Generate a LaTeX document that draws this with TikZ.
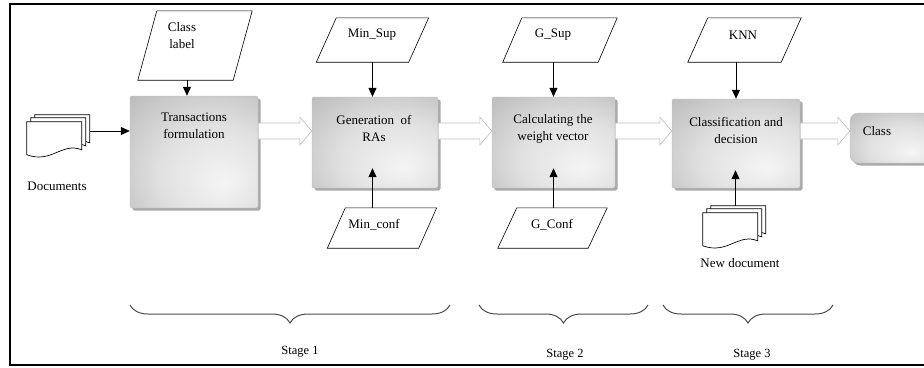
\documentclass[tikz,border=0pt]{standalone}
\usepackage{fontspec}
\setmainfont{Liberation Serif}
\usetikzlibrary{arrows.meta,shadows,decorations.pathreplacing,calc}
\pgfdeclareradialshading{boxshade}{\pgfpoint{12bp}{-14bp}}{color(0bp)=(gray!8); color(22bp)=(gray!24); color(45bp)=(gray!55); color(75bp)=(gray!66)}
\newcommand\parashape[2]{\draw[parastyle] ([xshift=-#2]#1.south west) -- ([xshift=-#2]#1.south east) -- ([xshift=#2]#1.north east) -- ([xshift=#2]#1.north west) -- cycle;}
\newcommand\docpage[2]{\draw[docstyle] (#1,#2) -- ++(55,0) -- ++(0,28) .. controls ++(-20,-8) and ++(25,9) .. ++(-55,5) -- cycle;}
\newcommand\docstack[1]{\begin{scope}[shift={(#1.north west)}]\docpage{8}{0}\docpage{4}{3}\docpage{0}{7}\end{scope}}
\tikzset{
  box/.style={shade, shading=boxshade, draw=gray!50, line width=0.4pt, rounded corners=2pt, inner sep=0,
    drop shadow={shadow xshift=2.5pt, shadow yshift=-2.5pt, fill=gray!90, opacity=0.75}},
  txt/.style={font=\fontsize{13}{17}\selectfont, align=center, inner sep=0},
  stagetxt/.style={font=\fontsize{12.5}{15}\selectfont, inner sep=0},
  parabox/.style={inner sep=0},
  parastyle/.style={draw=black, fill=white, line width=0.6pt},
  docstyle/.style={draw=black, fill=white, line width=0.7pt},
  arr/.style={-{Triangle[length=9pt,width=8pt]}, line width=1pt, black},
  hollow/.style={draw=gray!50, fill=white, line width=0.6pt,
    to path={let \p1=(\tikztostart), \p2=(\tikztotarget) in
      (\x1,\y1+8pt) -- (\x2-12pt,\y1+8pt) -- (\x2-12pt,\y1+14pt) -- (\x2,\y1)
      -- (\x2-12pt,\y1-14pt) -- (\x2-12pt,\y1-8pt) -- (\x1,\y1-8pt) -- cycle}},
  bracestyle/.style={decorate, decoration={brace, mirror, amplitude=18pt}, draw=gray!60!black, line width=1pt}
}
\begin{document}
\begin{tikzpicture}[x=1pt,y=-1pt]
\useasboundingbox (0,0) rectangle (924,367);
% frame
\draw[line width=2pt] (930,4) -- (10,4) -- (10,365) -- (930,365);
% process boxes
\node[box, minimum width=128pt, minimum height=112pt] (b1) at (194,152) {};
\node[box, minimum width=126pt, minimum height=91pt] (b2) at (375,142.5) {};
\node[box, minimum width=123pt, minimum height=91pt] (b3) at (553.5,142.5) {};
\node[box, minimum width=128pt, minimum height=89pt] (b4) at (736,143.5) {};
\node[box, rounded corners=8pt, minimum width=84pt, minimum height=50pt] (cls) at (892,138) {};
\node[txt] (t1) at (194,126) {Transactions\\formulation};
\node[txt] (t2) at (374,128.5) {Generation\ \ of\\RAs};
\node[txt] (t3) at (553,128.5) {Calculating the\\weight vector};
\node[txt] (t4) at (736,130) {Classification and\\decision};
\node[txt] (t5) at (877,131) {Class};
% parallelograms
\node[parabox, minimum width=95pt, minimum height=69pt] (cl) at (195,45.5) {};
\node[parabox, minimum width=92pt, minimum height=44pt] (ms) at (372.5,40) {};
\node[parabox, minimum width=91pt, minimum height=40pt] (mc) at (382,228) {};
\node[parabox, minimum width=95pt, minimum height=44pt] (gs) at (560,40) {};
\node[parabox, minimum width=90pt, minimum height=40pt] (gc) at (552.5,228) {};
\node[parabox, minimum width=93pt, minimum height=44pt] (knn) at (744.5,40) {};
\parashape{cl}{9.5pt}
\parashape{ms}{10pt}
\parashape{mc}{9pt}
\parashape{gs}{9.5pt}
\parashape{gc}{9.5pt}
\parashape{knn}{10pt}
\node[txt] (clt) at (182,36) {Class\\label};
\node[txt] (mst) at (372,35) {Min\_Sup};
\node[txt] (mct) at (374,225) {Min\_conf};
\node[txt] (gst) at (553,35) {G\_Sup};
\node[txt] (gct) at (552,225) {G\_Conf};
\node[txt] (knnt) at (743,35) {KNN};
% document stacks
\node[inner sep=0, minimum width=63pt, minimum height=42pt] (docs) at (58.5,136) {};
\docstack{docs}
\node[txt] (docst) at (57,186) {Documents};
\node[inner sep=0, minimum width=65pt, minimum height=39pt] (nd) at (735.5,225.5) {};
\docstack{nd}
\node[txt] (ndt) at (740,263) {New document};
% helper coordinates
\coordinate (ay) at (0,131);
\path ([xshift=-8pt]cl.south) coordinate (clbot);
\path (b2.south) ++(0,-20) coordinate (in2);
\path (b3.south) ++(0,-20) coordinate (in3);
\path (b4.south) ++(0,-18) coordinate (in4);
% thin arrows
\draw[arr] (docs.east |- ay) -- (b1.west |- ay);
\draw[arr] (clbot) -- (clbot |- b1.north);
\draw[arr] (ms.south) -- (ms.south |- b2.north);
\draw[arr] (mc.north -| ms.south) -- (in2 -| ms.south);
\draw[arr] (gs.south -| b3.north) -- (b3.north);
\draw[arr] (gc.north -| in3) -- (in3);
\draw[arr] (knn.south -| b4.north) -- (b4.north);
\draw[arr] (nd.north) -- (nd.north |- in4);
% hollow arrows
\draw[hollow] (b1.east |- ay) to (b2.west |- ay);
\draw[hollow] (b2.east |- ay) to (b3.west |- ay);
\draw[hollow] (b3.east |- ay) to (b4.west |- ay);
\draw[hollow] (b4.east |- ay) to (cls.west |- ay);
% braces
\draw[bracestyle] (130,305) -- (450,305);
\draw[bracestyle] (479,305) -- (648,305);
\draw[bracestyle] (663,305) -- (833,305);
\node[stagetxt] (s1) at (300,352) {Stage 1};
\node[stagetxt] (s2) at (565,355) {Stage 2};
\node[stagetxt] (s3) at (752,355) {Stage 3};
\end{tikzpicture}
\end{document}
